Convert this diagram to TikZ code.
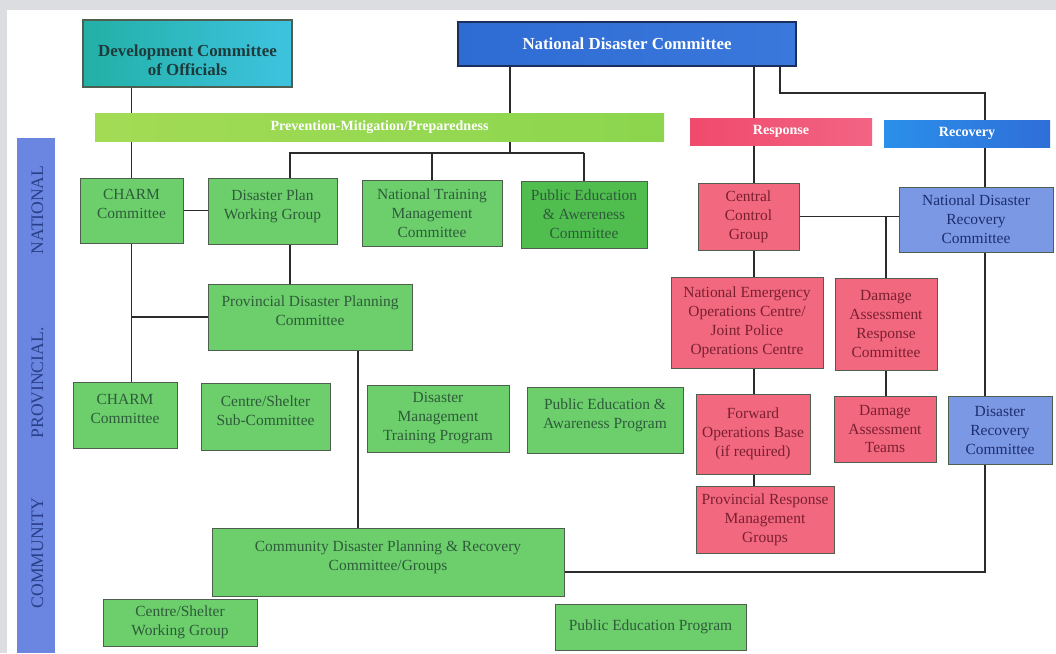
\documentclass[tikz,border=0pt]{standalone}
\usepackage{fontspec}
\setmainfont{Liberation Serif}
\usetikzlibrary{calc}

\definecolor{framegray}{HTML}{DCDDE0}
\definecolor{tealL}{HTML}{22B0A6}
\definecolor{tealR}{HTML}{3EC3E0}
\definecolor{ndcL}{HTML}{2E6CD4}
\definecolor{ndcR}{HTML}{3A78DC}
\definecolor{ndcedge}{HTML}{1C2E5A}
\definecolor{pmpL}{HTML}{A3DB55}
\definecolor{pmpR}{HTML}{8BD64E}
\definecolor{respL}{HTML}{F04A6C}
\definecolor{respR}{HTML}{F26484}
\definecolor{recL}{HTML}{2A90EA}
\definecolor{recR}{HTML}{2F6ED8}
\definecolor{side}{HTML}{6A86E0}
\definecolor{txtlevel}{HTML}{2A3F8A}
\definecolor{boxgreen}{HTML}{6CCF6C}
\definecolor{peacgreen}{HTML}{4FBE4F}
\definecolor{boxpink}{HTML}{F2687F}
\definecolor{boxblue}{HTML}{7B98E5}
\definecolor{txtgreen}{HTML}{2E5B3A}
\definecolor{txtpink}{HTML}{7A2030}
\definecolor{txtblue}{HTML}{1E2E6E}
\definecolor{txtdark}{HTML}{1E3A3A}
\definecolor{boxedge}{HTML}{4F5F4F}
\definecolor{linegray}{HTML}{2B2B2B}

\pgfdeclarelayer{canvas}
\pgfdeclarelayer{wires}
\pgfsetlayers{canvas,wires,main}

\tikzset{sz/.style 2 args={minimum width=#1*0.025cm, minimum height=#2*0.025cm}}

\begin{document}
\begin{tikzpicture}[x=0.025cm, y=-0.025cm]
  \tikzstyle{grn}=[draw=boxedge, line width=0.6pt, fill=boxgreen, text=txtgreen, align=center, inner sep=1pt, font=\fontsize{11}{13.5}\selectfont]
  \tikzstyle{pnk}=[grn, fill=boxpink, text=txtpink]
  \tikzstyle{blu}=[grn, fill=boxblue, text=txtblue]
  \tikzstyle{lift}=[text depth=9pt]
  \tikzstyle{band}=[inner sep=0pt, text=white, font=\bfseries\fontsize{10}{12}\selectfont]
  \tikzstyle{level}=[rotate=90, text=txtlevel, font=\fontsize{12.5}{14}\selectfont]
  \tikzstyle{link}=[draw=linegray, line width=1.3pt]

  \begin{pgfonlayer}{canvas}
    \fill[framegray] (0,0) rectangle (1056,653);
    \fill[white] (7,10) rectangle (1056,653);
  \end{pgfonlayer}

  % top committees and bands
  \node[draw=boxedge, line width=0.8pt, left color=tealL, right color=tealR, text=txtdark, align=center,
        font=\bfseries\fontsize{12}{14}\selectfont, sz={209}{67}] (dco) at (187.5,53.5) {\rule{0pt}{18pt}Development Committee\\of Officials};
  \node[draw=ndcedge, line width=1pt, left color=ndcL, right color=ndcR, text=white,
        font=\bfseries\fontsize{12}{14}\selectfont, sz={338}{44}] (ndc) at (627,44) {National Disaster Committee};
  \node[band, left color=pmpL, right color=pmpR, sz={569}{28}] (pmp) at (379.5,127) {Prevention-Mitigation/Preparedness};
  \node[band, left color=respL, right color=respR, sz={182}{27}] (resp) at (781,131.5) {Response};
  \node[band, left color=recL, right color=recR, sz={166}{27}] (rec) at (967,133.5) {Recovery};

  % level bar
  \node[fill=side, inner sep=0pt, sz={38}{515}] (bar) at (36,395.5) {};
  \node[level] (lnat) at (37.5,210) {NATIONAL};
  \node[level] (lprov) at (37.5,383) {PROVINCIAL.};
  \node[level] (lcom) at (37.5,553) {COMMUNITY};

  % national row
  \node[grn, lift, sz={103}{65}] (charmN) at (131.5,210.5) {CHARM\\Committee};
  \node[grn, lift, sz={129}{66}] (dpwg) at (272.5,211) {Disaster Plan\\Working Group};
  \node[grn, sz={140}{66}] (ntmc) at (432,213) {National Training\\Management\\Committee};
  \node[grn, fill=peacgreen, sz={126}{67}] (peac) at (584,214.5) {Public Education\\\& Awereness\\Committee};
  \node[pnk, sz={101}{67}] (ccg) at (748.5,216.5) {Central\\Control\\Group};
  \node[blu, sz={154}{65}] (ndrc) at (976,219.5) {National Disaster\\Recovery\\Committee};

  \node[grn, lift, sz={204}{66}] (pdpc) at (310,317) {Provincial Disaster Planning\\Committee};
  \node[pnk, sz={152}{91}] (neoc) at (747,322.5) {National Emergency\\Operations Centre/\\Joint Police\\Operations Centre};
  \node[pnk, sz={102}{92}] (darc) at (886,324) {Damage\\Assessment\\Response\\Committee};

  % provincial row
  \node[grn, lift, sz={104}{66}] (charmP) at (125,415) {CHARM\\Committee};
  \node[grn, lift, sz={129}{67}] (cssc) at (265.5,416.5) {Centre/Shelter\\Sub-Committee};
  \node[grn, sz={142}{67}] (dmtp) at (438,418.5) {Disaster\\Management\\Training Program};
  \node[grn, lift, sz={156}{66}] (peap) at (605,420) {Public Education \&\\Awareness Program};
  \node[pnk, sz={114}{80}] (fob) at (753,434) {Forward\\Operations Base\\(if required)};
  \node[pnk, sz={102}{66}] (dat) at (885,429) {Damage\\Assessment\\Teams};
  \node[blu, sz={104}{68}] (drc) at (1000,430) {Disaster\\Recovery\\Committee};

  % community row
  \node[pnk, sz={138}{67}] (prmg) at (765,520) {Provincial Response\\Management\\Groups};
  \node[grn, lift, sz={352}{68}] (cdprc) at (388,562) {Community Disaster Planning \& Recovery\\Committee/Groups};
  \node[grn, sz={154}{47}] (cswg) at (180,622.5) {Centre/Shelter\\Working Group};
  \node[grn, sz={191}{46}] (pep) at (650.5,627) {Public Education Program};

  \coordinate (hubL) at (290,153);
  \coordinate (hubM) at (510,153);
  \coordinate (pX) at (358,0);
  \coordinate (rX) at (754,0);
  \coordinate (recA) at (780,93);
  \coordinate (recX) at (985,93);
  \coordinate (bend) at (985,572);

  \begin{pgfonlayer}{wires}
    \draw[link] (hubM |- ndc.south) -- (hubM);
    \draw[link] (hubL |- dpwg.north) -- (hubL) -- (peac.north |- hubL);
    \foreach \dst in {ntmc,peac}
      \draw[link] (\dst.north |- hubL) -- (\dst.north);
    \draw[link] (charmN.north |- dco.south) -- (charmN.north);
    \draw[link] (charmN.east) -- (charmN.east -| dpwg.west);
    \draw[link] (charmN.south) -- (charmN.south |- charmP.north);
    \draw[link] (charmN.south |- pdpc.west) -- (pdpc.west);
    \draw[link] (hubL |- dpwg.south) -- (hubL |- pdpc.north);
    \draw[link] (pX |- pdpc.south) -- (pX |- cdprc.north);

    \draw[link] (rX |- ndc.south) -- (rX |- ccg.north);
    \draw[link] (recA |- ndc.south) -- (recA) -- (recX) -- (recX |- ndrc.north);
    \draw[link] (ccg.east) -- (ccg.east -| ndrc.west);
    \draw[link] (darc.north |- ccg.east) -- (darc.north);
    \foreach \a/\b in {ccg/neoc,neoc/fob,fob/prmg}
      \draw[link] (rX |- \a.south) -- (rX |- \b.north);
    \draw[link] (darc.south) -- (darc.south |- dat.north);
    \draw[link] (recX |- ndrc.south) -- (recX |- drc.north);
    \draw[link] (recX |- drc.south) -- (bend) -- (bend -| cdprc.east);
  \end{pgfonlayer}
\end{tikzpicture}
\end{document}
